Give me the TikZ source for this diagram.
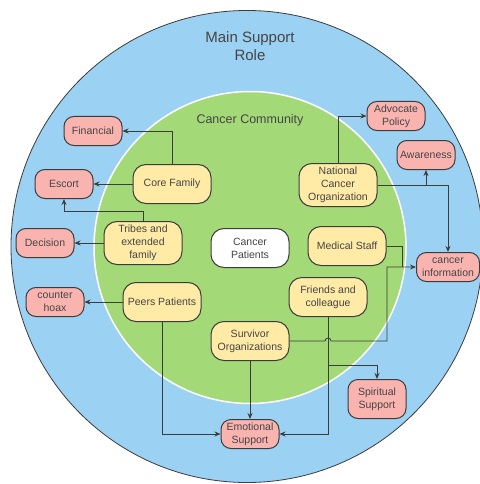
\documentclass[tikz,border=0pt]{standalone}
\usepackage{fontspec}
\setmainfont{Liberation Sans}
\usepackage{tikz}
\usetikzlibrary{arrows.meta}
\definecolor{rolebg}{HTML}{9BD1F2}
\definecolor{communitybg}{HTML}{A3D977}
\definecolor{memberfill}{HTML}{FFEAA6}
\definecolor{supportfill}{HTML}{F9B4B0}
\definecolor{edgegray}{HTML}{3C3C3C}
\definecolor{textgray}{HTML}{454545}
\tikzstyle{arrow} = [thick,->,>={Stealth[length=6pt,width=5pt]},draw=edgegray]
\tikzstyle{member} = [draw=edgegray,line width=1pt,fill=memberfill,rounded corners=13pt,minimum width=78pt,minimum height=39pt,inner sep=2pt,align=center,text=textgray,font=\fontsize{10.5}{13}\selectfont]
\tikzstyle{support} = [draw=edgegray,line width=1pt,fill=supportfill,rounded corners=10pt,minimum width=58pt,minimum height=29pt,inner sep=2pt,align=center,text=textgray,font=\fontsize{10.5}{13}\selectfont]

\begin{document}
\begin{tikzpicture}[x=1pt,y=-1pt]
  \useasboundingbox[fill=white] (0,0) rectangle (479,484);
  \draw[fill=rolebg,draw=edgegray,thick] (247,246.5) circle (236);
  \draw[fill=communitybg,draw=white,line width=1.5pt] (250,247.5) circle (156);
  \node[font=\fontsize{15}{18}\selectfont,text=textgray,align=center] (mainrole) at (250,46) {Main Support\\Role};
  \node[font=\fontsize{12.5}{15}\selectfont,text=textgray] (community) at (250,120) {Cancer Community};

  \node[support] (financial) at (93,131) {Financial};
  \node[support] (escort) at (64,184) {Escort};
  \node[support] (decision) at (45,243) {Decision};
  \node[support] (hoax) at (55,302) {counter\\hoax};
  \node[member] (corefam) at (172,184) {Core Family};
  \node[member,minimum height=43pt] (tribes) at (143,243) {Tribes and\\extended\\family};
  \node[member,fill=white] (patients) at (250,248) {Cancer\\Patients};
  \node[member] (peers) at (162,302) {Peers Patients};
  \node[member,minimum height=43pt] (national) at (338,185) {National\\Cancer\\Organization};
  \node[member] (medical) at (347,246) {Medical Staff};
  \node[member] (friends) at (328,297) {Friends and\\colleague};
  \node[member] (survivor) at (250,341) {Survivor\\Organizations};
  \node[support] (advocate) at (396,116) {Advocate\\Policy};
  \node[support] (awareness) at (426,155) {Awareness};
  \node[support,minimum width=63pt] (cancerinfo) at (448,267) {cancer\\information};
  \node[support,minimum height=39pt] (spiritual) at (377,399) {Spiritual\\Support};
  \node[support] (emotional) at (250,434) {Emotional\\Support};

  \coordinate (fork) at (328,365);
  \coordinate (hop) at (328,341);
  \coordinate (turn) at (387,341);
  \coordinate (medjoin) at (402,267);

  \draw[arrow] (corefam.north) |- (financial.east);
  \draw[arrow] (corefam.west) -- (escort.east);
  \draw[arrow] (tribes.north) -- ++(0,-10) -| (escort.south);
  \draw[arrow] (tribes.west) -- (decision.east);
  \draw[arrow] (peers.west) -- (hoax.east);
  \draw[arrow] (peers.south) |- (emotional.west);
  \draw[arrow] (survivor.south) -- (emotional.north);
  \draw[arrow] (friends.south) |- (emotional.east);
  \draw[arrow] (fork) -| (spiritual.north);
  \draw[arrow] (survivor.east) -- ([xshift=-3pt]hop) arc[start angle=180,end angle=0,radius=3pt] -- (turn) |- (cancerinfo.west);
  \draw[arrow,-] (medical.east) -| (medjoin);
  \draw[arrow] (national.east) -| (cancerinfo.north);
  \draw[arrow] (awareness.south |- national.east) -- (awareness.south);
  \draw[arrow] (national.north) |- (advocate.west);
\end{tikzpicture}
\end{document}
